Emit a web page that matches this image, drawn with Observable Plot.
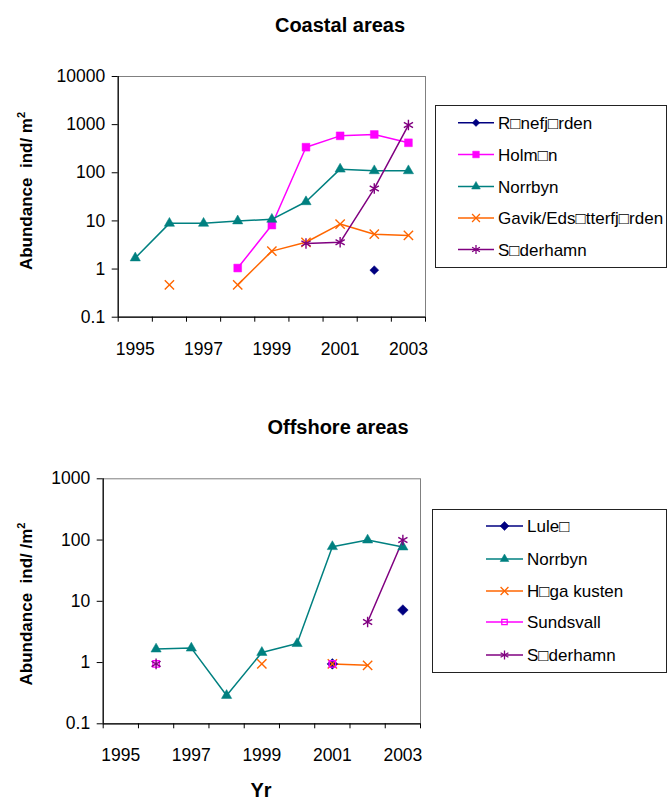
<!DOCTYPE html>
<html>
<head>
<meta charset="utf-8">
<script src="https://cdn.jsdelivr.net/npm/d3@7"></script>
<script src="https://cdn.jsdelivr.net/npm/@observablehq/plot@0.6"></script>
<style>
  body { margin: 0; background: #fff; }
  #page { position: relative; width: 667px; height: 800px; overflow: hidden; font-family: Arial, "Liberation Sans", sans-serif; color: #000; }
  .abs { position: absolute; }
  .title { font-weight: bold; font-size: 20px; white-space: nowrap; transform: translate(-50%, -50%); line-height: 1; }
  .ytitle { font-weight: bold; font-size: 17px; white-space: nowrap; transform: translate(-50%, -50%) rotate(-90deg); line-height: 1; }
  .legend { border: 1px solid #222; box-sizing: border-box; background: #fff; }
  sup { font-size: 11px; vertical-align: 7px; }
</style>
</head>
<body>
<div id="page"></div>
<script>
// ---------- data ----------
const years = [1995, 1996, 1997, 1998, 1999, 2000, 2001, 2002, 2003];
const yearLabels = [1995, 1997, 1999, 2001, 2003];

// Coastal areas
const coastalNames = ["R\u25A1nefj\u25A1rden", "Holm\u25A1n", "Norrbyn", "Gavik/Eds\u25A1tterfj\u25A1rden", "S\u25A1derhamn"];
const coastalRanefjarden = [null, null, null, null, null, null, null, 0.95, null];
const coastalHolmon      = [null, null, null, 1.05, 8.2, 340, 585, 625, 420];
const coastalNorrbyn     = [1.7, 8.9, 8.9, 10, 10.8, 25, 119, 110, 110];
const coastalGavik       = [null, 0.47, null, 0.47, 2.36, 3.6, 8.6, 5.3, 5.0];
const coastalSoderhamn   = [null, null, null, null, null, 3.4, 3.6, 47, 980];
const coastalTicks = [0.1, 1, 10, 100, 1000, 10000];

// Offshore areas
const offshoreNames = ["Lule\u25A1", "Norrbyn", "H\u25A1ga kusten", "Sundsvall", "S\u25A1derhamn"];
const offshoreLulea     = [null, null, null, null, null, null, 0.95, null, 7.2];
const offshoreNorrbyn   = [null, 1.66, 1.72, 0.29, 1.46, 2.04, 78, 100, 77];
const offshoreHoga      = [null, null, null, null, 0.95, null, 0.95, 0.9, null];
const offshoreSundsvall = [null, 0.95, null, null, null, null, 0.95, null, null];
const offshoreSoderhamn = [null, 0.95, null, null, null, null, null, 4.6, 100];
const offshoreTicks = [0.1, 1, 10, 100, 1000];

// ---------- styles ----------
const NAVY = "#000080", MAGENTA = "#FF00FF", TEAL = "#008080", ORANGE = "#FF6600", PURPLE = "#800080";

const coastalSeries = [
  {name: coastalNames[0], values: coastalRanefjarden, color: NAVY, symbol: "diamond2", fill: true, r: 4},
  {name: coastalNames[1], values: coastalHolmon, color: MAGENTA, symbol: "square", fill: true, r: 4.4},
  {name: coastalNames[2], values: coastalNorrbyn, color: TEAL, symbol: "triangle", fill: true, r: 3.8},
  {name: coastalNames[3], values: coastalGavik, color: ORANGE, symbol: "times", fill: false, r: 4.3},
  {name: coastalNames[4], values: coastalSoderhamn, color: PURPLE, symbol: "asterisk", fill: false, r: 5}
];
const offshoreSeries = [
  {name: offshoreNames[0], values: offshoreLulea, color: NAVY, symbol: "diamond2", fill: true, r: 4.8},
  {name: offshoreNames[1], values: offshoreNorrbyn, color: TEAL, symbol: "triangle", fill: true, r: 3.8},
  {name: offshoreNames[2], values: offshoreHoga, color: ORANGE, symbol: "times", fill: false, r: 4.3},
  {name: offshoreNames[3], values: offshoreSundsvall, color: MAGENTA, symbol: "square", fill: false, r: 3.6},
  {name: offshoreNames[4], values: offshoreSoderhamn, color: PURPLE, symbol: "asterisk", fill: false, r: 5}
];

const page = document.getElementById("page");
const FONT = "Arial, 'Liberation Sans', sans-serif";

function makeChart(cfg) {
  const rows = cfg.series.flatMap(s => years.map((yr, i) => ({series: s.name, year: yr, value: s.values[i] == null ? NaN : s.values[i]})));
  const halfYears = d3.range(years[0] - 0.5, years[years.length - 1] + 1, 1);
  const fmt = d => d < 1 ? String(d) : d3.format("d")(d);
  const marks = [
    Plot.frame({stroke: "#808080", strokeWidth: 1}),
    Plot.ruleX([halfYears[0]], {stroke: "#000", strokeWidth: 1.2}),
    Plot.ruleY([cfg.yDomain[0]], {stroke: "#000", strokeWidth: 1.2}),
    Plot.axisX(halfYears, {tickSize: 5, tickFormat: () => "", stroke: "#000", label: null}),
    Plot.axisX(yearLabels, {tickSize: 0, tickPadding: 25, tickFormat: d => String(d), fill: "#000", label: null}),
    Plot.axisY(cfg.yTicks, {tickSize: 6, tickPadding: 7, tickFormat: fmt, stroke: "#000", fill: "#000", label: null}),
    ...cfg.series.map(s => Plot.line(rows.filter(r => r.series === s.name), {x: "year", y: "value", stroke: s.color, strokeWidth: 1.5})),
    ...cfg.series.map(s => Plot.dot(rows.filter(r => r.series === s.name && !isNaN(r.value)), {
      x: "year", y: "value", symbol: () => s.symbol, r: s.r,
      fill: s.fill ? s.color : "none", stroke: s.color, strokeWidth: s.fill ? 0.5 : 1.4
    }))
  ];
  const svg = Plot.plot({
    width: 667, height: cfg.height,
    marginLeft: cfg.left, marginRight: 667 - cfg.right, marginTop: cfg.top, marginBottom: cfg.height - cfg.bottom,
    x: {type: "linear", domain: [halfYears[0], halfYears[halfYears.length - 1]], label: null},
    y: {type: "log", domain: cfg.yDomain, label: null},
    symbol: {type: "identity"},
    style: {fontSize: "17.5px", fontFamily: FONT, background: "transparent", overflow: "visible", color: "#000"},
    marks
  });
  svg.style.position = "absolute";
  svg.style.left = "0px";
  svg.style.top = cfg.offset + "px";
  page.appendChild(svg);
}

function addText(cls, text, x, y, html) {
  const d = document.createElement("div");
  d.className = "abs " + cls;
  if (html) d.innerHTML = text; else d.textContent = text;
  d.style.left = x + "px";
  d.style.top = y + "px";
  page.appendChild(d);
}

function makeLegend(series, box, rowYs, lineX0, lineX1, textX) {
  const div = document.createElement("div");
  div.className = "abs legend";
  Object.assign(div.style, {left: box.x + "px", top: box.y + "px", width: box.w + "px", height: box.h + "px"});
  page.appendChild(div);
  const svg = d3.select(page).append("svg")
    .attr("width", box.w).attr("height", box.h)
    .style("position", "absolute").style("left", box.x + "px").style("top", box.y + "px");
  const symbolMap = {diamond2: d3.symbolDiamond2, square: d3.symbolSquare, triangle: d3.symbolTriangle, times: d3.symbolTimes, asterisk: d3.symbolAsterisk};
  series.forEach((s, i) => {
    const cy = rowYs[i] - box.y;
    const g = svg.append("g");
    g.append("line").attr("x1", lineX0 - box.x).attr("x2", lineX1 - box.x).attr("y1", cy).attr("y2", cy)
      .attr("stroke", s.color).attr("stroke-width", 1.5);
    const cx = (lineX0 + lineX1) / 2 - box.x;
    g.append("path").attr("transform", `translate(${cx},${cy})`)
      .attr("d", d3.symbol(symbolMap[s.symbol], Math.PI * (s.r * 0.85) ** 2)())
      .attr("fill", s.fill ? s.color : "none").attr("stroke", s.color).attr("stroke-width", s.fill ? 0.5 : 1.3);
    g.append("text").attr("x", textX - box.x).attr("y", cy).attr("dy", "0.36em")
      .attr("font-family", FONT).attr("font-size", 17).attr("fill", "#000").text(s.name);
  });
}

// ---------- Coastal ----------
makeChart({series: coastalSeries, yDomain: [0.1, 10000], yTicks: coastalTicks,
  offset: 0, height: 390, left: 117.7, right: 425, top: 76, bottom: 316.7});
addText("title", "Coastal areas", 340, 25);
addText("ytitle", "Abundance&nbsp; ind/ m<sup>2</sup>", 25, 191, true);
makeLegend(coastalSeries, {x: 435, y: 105, w: 232, h: 163}, [122.7, 154.5, 186.5, 218, 249.5], 458, 494, 498);

// ---------- Offshore ----------
makeChart({series: offshoreSeries, yDomain: [0.1, 1000], yTicks: offshoreTicks,
  offset: 400, height: 400, left: 102.7, right: 420, top: 78.3, bottom: 323.3});
addText("title", "Offshore areas", 338, 427);
addText("ytitle", "Abundance&nbsp; ind/ /m<sup>2</sup>", 25, 604, true);
addText("title", "Yr", 261, 790);
makeLegend(offshoreSeries, {x: 432, y: 509, w: 235, h: 164}, [526, 559, 591, 622, 655], 486, 523, 527);
</script>
</body>
</html>
